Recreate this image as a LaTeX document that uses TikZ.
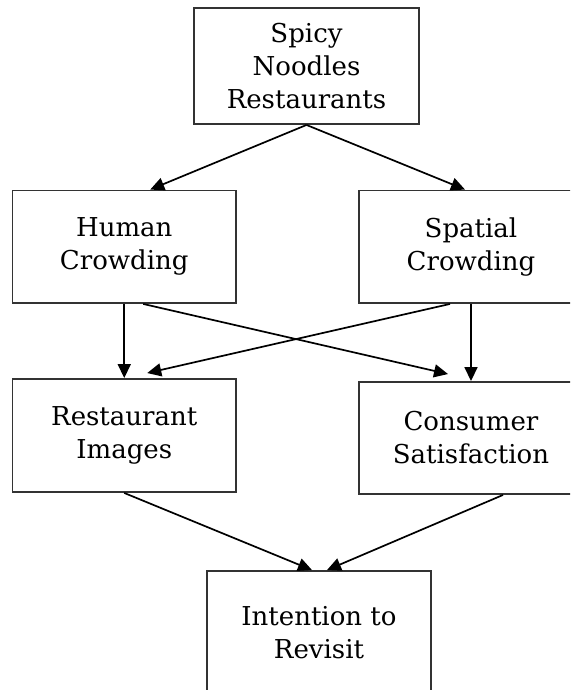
\documentclass[tikz,border=0pt]{standalone}
\usepackage{fontspec}
\newfontfamily\boxfont{DejaVu Serif}
\usetikzlibrary{arrows.meta}
\tikzset{
  box/.style={draw=black!80, line width=1.9pt, fill=white, rectangle, align=center, inner sep=0pt,
    font=\boxfont\fontsize{26}{33}\selectfont},
  arr/.style={line width=1.7pt, -{Triangle[length=14pt,width=13pt]}}
}
\begin{document}
\begin{tikzpicture}[x=1pt,y=-1pt]
\useasboundingbox (0,0) rectangle (570,690);
\fill[white] (0,0) rectangle (570,690);
\clip (0,0) rectangle (570,690);
\node[box, minimum width=225pt, minimum height=116pt] (top) at (306.5,66) {Spicy\\Noodles\\Restaurants};
\node[box, minimum width=223.5pt, minimum height=112.5pt] (human) at (124.25,246.75) {Human\\Crowding};
\node[box, minimum width=224pt, minimum height=112.5pt] (spatial) at (471,246.75) {Spatial\\Crowding};
\node[box, minimum width=223.5pt, minimum height=113pt] (rest) at (124.25,435.5) {Restaurant\\Images};
\node[box, minimum width=224pt, minimum height=112pt] (cons) at (471,438) {Consumer\\Satisfaction};
\node[box, minimum width=224pt, minimum height=124pt] (intent) at (319,633) {Intention to\\Revisit};
\draw[arr] (top.south) -- ([xshift=26pt]human.north);
\draw[arr] (top.south) -- ([xshift=-6pt]spatial.north);
\draw[arr] (human.south) -- (rest.north);
\draw[arr] ([xshift=19pt]human.south) -- ([xshift=-23pt,yshift=7pt]cons.north);
\draw[arr] ([xshift=-21pt]spatial.south) -- ([xshift=23pt,yshift=5pt]rest.north);
\draw[arr] (spatial.south) -- (cons.north);
\draw[arr] (rest.south) -- ([xshift=-7pt]intent.north);
\draw[arr] ([xshift=32pt]cons.south) -- ([xshift=8pt]intent.north);
\end{tikzpicture}
\end{document}
